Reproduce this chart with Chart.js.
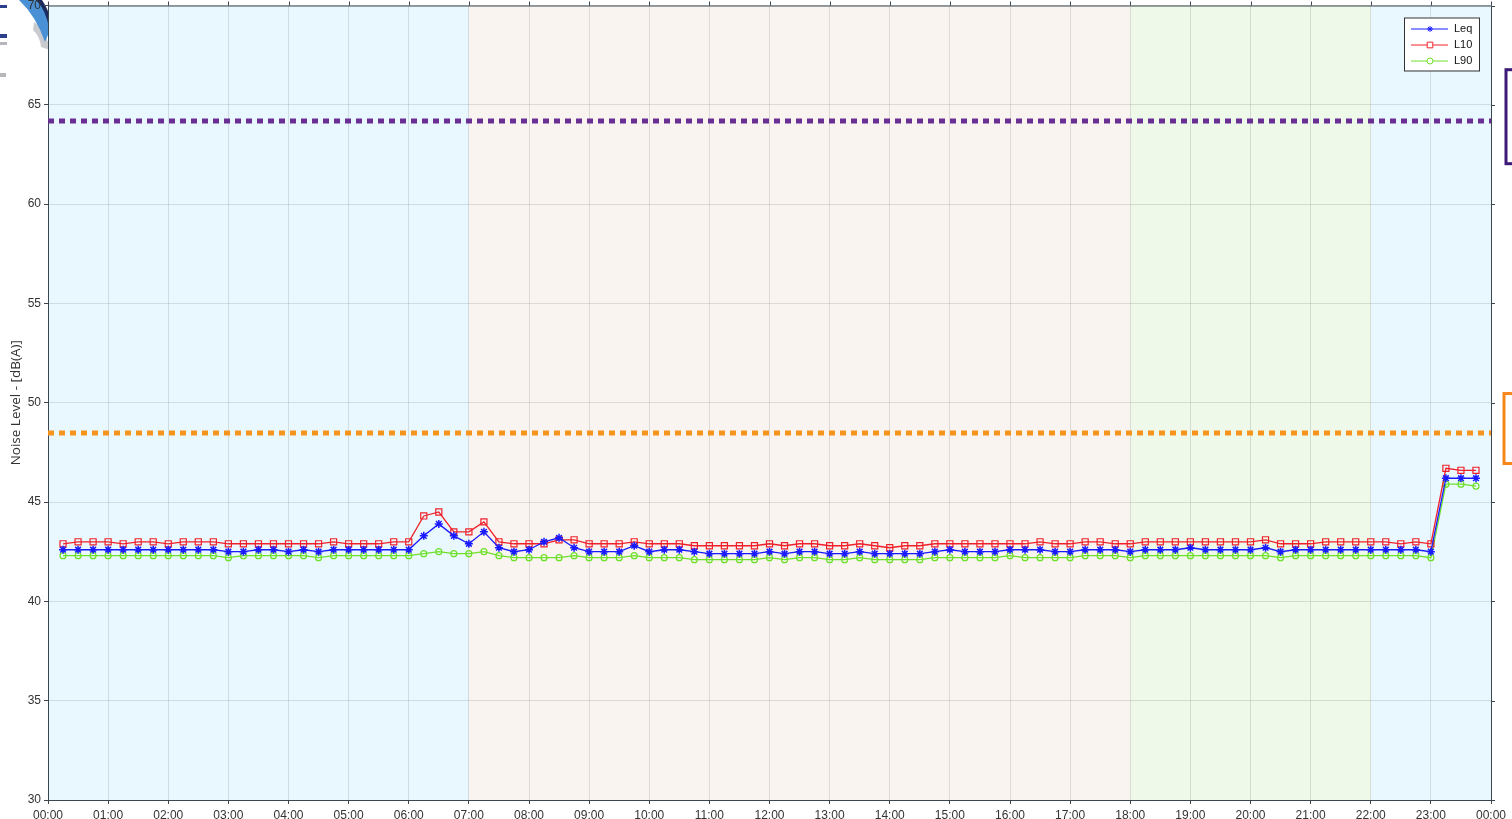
<!DOCTYPE html>
<html>
<head>
<meta charset="utf-8">
<script src="https://cdn.jsdelivr.net/npm/chart.js@4.4.0/dist/chart.umd.min.js"></script>
<style>
html, body { margin: 0; padding: 0; overflow: hidden; background: #fff; }
</style>
</head>
<body>
<canvas id="myChart" width="1512" height="819"></canvas>
<script>
// 15 minute intervals
var times = [
    '00:15','00:30','00:45','01:00','01:15','01:30','01:45','02:00','02:15','02:30','02:45','03:00',
    '03:15','03:30','03:45','04:00','04:15','04:30','04:45','05:00','05:15','05:30','05:45','06:00',
    '06:15','06:30','06:45','07:00','07:15','07:30','07:45','08:00','08:15','08:30','08:45','09:00',
    '09:15','09:30','09:45','10:00','10:15','10:30','10:45','11:00','11:15','11:30','11:45','12:00',
    '12:15','12:30','12:45','13:00','13:15','13:30','13:45','14:00','14:15','14:30','14:45','15:00',
    '15:15','15:30','15:45','16:00','16:15','16:30','16:45','17:00','17:15','17:30','17:45','18:00',
    '18:15','18:30','18:45','19:00','19:15','19:30','19:45','20:00','20:15','20:30','20:45','21:00',
    '21:15','21:30','21:45','22:00','22:15','22:30','22:45','23:00','23:15','23:30','23:45'
];

var leq = [
    42.6,42.6,42.6,42.6,42.6,42.6,42.6,42.6,42.6,42.6,42.6,42.5,
    42.5,42.6,42.6,42.5,42.6,42.5,42.6,42.6,42.6,42.6,42.6,42.6,
    43.3,43.9,43.3,42.9,43.5,42.7,42.5,42.6,43.0,43.2,42.7,42.5,
    42.5,42.5,42.8,42.5,42.6,42.6,42.5,42.4,42.4,42.4,42.4,42.5,
    42.4,42.5,42.5,42.4,42.4,42.5,42.4,42.4,42.4,42.4,42.5,42.6,
    42.5,42.5,42.5,42.6,42.6,42.6,42.5,42.5,42.6,42.6,42.6,42.5,
    42.6,42.6,42.6,42.7,42.6,42.6,42.6,42.6,42.7,42.5,42.6,42.6,
    42.6,42.6,42.6,42.6,42.6,42.6,42.6,42.5,46.2,46.2,46.2
];

var l10 = [
    42.9,43.0,43.0,43.0,42.9,43.0,43.0,42.9,43.0,43.0,43.0,42.9,
    42.9,42.9,42.9,42.9,42.9,42.9,43.0,42.9,42.9,42.9,43.0,43.0,
    44.3,44.5,43.5,43.5,44.0,43.0,42.9,42.9,42.9,43.1,43.1,42.9,
    42.9,42.9,43.0,42.9,42.9,42.9,42.8,42.8,42.8,42.8,42.8,42.9,
    42.8,42.9,42.9,42.8,42.8,42.9,42.8,42.7,42.8,42.8,42.9,42.9,
    42.9,42.9,42.9,42.9,42.9,43.0,42.9,42.9,43.0,43.0,42.9,42.9,
    43.0,43.0,43.0,43.0,43.0,43.0,43.0,43.0,43.1,42.9,42.9,42.9,
    43.0,43.0,43.0,43.0,43.0,42.9,43.0,42.9,46.7,46.6,46.6
];

var l90 = [
    42.3,42.3,42.3,42.3,42.3,42.3,42.3,42.3,42.3,42.3,42.3,42.2,
    42.3,42.3,42.3,42.3,42.3,42.2,42.3,42.3,42.3,42.3,42.3,42.3,
    42.4,42.5,42.4,42.4,42.5,42.3,42.2,42.2,42.2,42.2,42.3,42.2,
    42.2,42.2,42.3,42.2,42.2,42.2,42.1,42.1,42.1,42.1,42.1,42.2,
    42.1,42.2,42.2,42.1,42.1,42.2,42.1,42.1,42.1,42.1,42.2,42.2,
    42.2,42.2,42.2,42.3,42.2,42.2,42.2,42.2,42.3,42.3,42.3,42.2,
    42.3,42.3,42.3,42.3,42.3,42.3,42.3,42.3,42.3,42.2,42.3,42.3,
    42.3,42.3,42.3,42.3,42.3,42.3,42.3,42.2,45.9,45.9,45.8
];

// day periods (hours)
var bandStart = [0, 7, 18, 22];
var bandEnd = [7, 18, 22, 24];
var bandColors = ['#e9f8fe', '#f9f4f0', '#eef9e9', '#e9f8fe'];

// limit lines
var limitValues = [64.2, 48.5];
var limitColors = ['#6a2f94', '#f7941d'];
var limitBoxColors = ['#3d1a78', '#f7861a'];

var font_family = "'Liberation Sans', Arial, sans-serif";
var axis_color = '#3c4650';

function toMinutes(t) {
    var p = t.split(':');
    return parseInt(p[0]) * 60 + parseInt(p[1]);
}

function pairs(values) {
    var out = [];
    for (var i = 0; i < values.length; i++) {
        out.push({x: toMinutes(times[i]), y: values[i]});
    }
    return out;
}

function pad(n) {
    return (n < 10 ? '0' : '') + n;
}

function drawLogo(ctx) {
    // partly hidden logo in the top left corner
    ctx.fillStyle = '#c9cbce';
    ctx.beginPath();
    ctx.moveTo(34, 22);
    ctx.quadraticCurveTo(46, 30, 50, 50);
    ctx.lineTo(41, 47);
    ctx.quadraticCurveTo(40, 36, 33, 30);
    ctx.fill();
    ctx.fillStyle = '#4a90d4';
    ctx.beginPath();
    ctx.moveTo(19, 0);
    ctx.lineTo(38, 0);
    ctx.quadraticCurveTo(48, 12, 50, 30);
    ctx.lineTo(45, 42);
    ctx.quadraticCurveTo(36, 16, 19, 0);
    ctx.fill();
    ctx.fillStyle = '#1c2a5e';
    ctx.beginPath();
    ctx.moveTo(36, 0);
    ctx.lineTo(42, 0);
    ctx.quadraticCurveTo(49, 10, 50, 20);
    ctx.lineTo(49, 28);
    ctx.quadraticCurveTo(46, 10, 36, 0);
    ctx.fill();
    ctx.fillStyle = '#2b3f8c';
    ctx.fillRect(0, 5, 7, 3);
    ctx.fillRect(0, 34, 7, 4);
    ctx.fillStyle = '#b5b7ba';
    ctx.fillRect(0, 42, 7, 3);
    ctx.fillRect(0, 73, 6, 4);
}

var backgroundPlugin = {
    id: 'bands',
    beforeDraw: function (chart) {
        var ctx = chart.ctx;
        var a = chart.chartArea;
        var xs = chart.scales.x;
        ctx.save();
        drawLogo(ctx);
        for (var i = 0; i < bandStart.length; i++) {
            var x0 = xs.getPixelForValue(bandStart[i] * 60);
            var x1 = xs.getPixelForValue(bandEnd[i] * 60);
            ctx.fillStyle = bandColors[i];
            ctx.fillRect(x0, a.top, x1 - x0, a.bottom - a.top);
        }
        ctx.restore();
    },
    beforeDatasetsDraw: function (chart) {
        var ctx = chart.ctx;
        var a = chart.chartArea;
        var ys = chart.scales.y;
        ctx.save();
        for (var i = 0; i < limitValues.length; i++) {
            var y = Math.round(ys.getPixelForValue(limitValues[i]));
            ctx.strokeStyle = limitColors[i];
            ctx.lineWidth = 5;
            ctx.setLineDash([6, 5]);
            ctx.beginPath();
            ctx.moveTo(a.left, y);
            ctx.lineTo(a.right, y);
            ctx.stroke();
        }
        ctx.restore();
    },
    afterDraw: function (chart) {
        var ctx = chart.ctx;
        var a = chart.chartArea;
        var xs = chart.scales.x;
        var ys = chart.scales.y;
        ctx.save();
        // top and right frame with outward ticks
        ctx.strokeStyle = axis_color;
        ctx.lineWidth = 1;
        ctx.beginPath();
        ctx.moveTo(a.left, a.top + 0.5);
        ctx.lineTo(a.right, a.top + 0.5);
        ctx.moveTo(a.right + 0.5, a.top);
        ctx.lineTo(a.right + 0.5, a.bottom);
        xs.ticks.forEach(function (t) {
            var px = Math.round(xs.getPixelForValue(t.value)) + 0.5;
            ctx.moveTo(px, a.top);
            ctx.lineTo(px, a.top - 4);
        });
        ys.ticks.forEach(function (t) {
            var py = Math.round(ys.getPixelForValue(t.value)) + 0.5;
            ctx.moveTo(a.right, py);
            ctx.lineTo(a.right + 4, py);
        });
        ctx.stroke();

        // clipped limit label boxes on the right
        for (var i = 0; i < limitValues.length; i++) {
            var y = ys.getPixelForValue(limitValues[i]);
            var h = i === 0 ? 94 : 70;
            ctx.strokeStyle = limitBoxColors[i];
            ctx.lineWidth = 3;
            ctx.strokeRect(a.right + 15 - i * 2, y - h / 2 - 4, 60, h);
        }

        // legend
        var lx = a.right - 87, ly = a.top + 12, lw = 75, lh = 53;
        ctx.fillStyle = '#ffffff';
        ctx.fillRect(lx, ly, lw, lh);
        ctx.strokeStyle = '#333333';
        ctx.lineWidth = 1;
        ctx.strokeRect(lx + 0.5, ly + 0.5, lw, lh);
        ctx.font = '11px ' + font_family;
        ctx.textBaseline = 'middle';
        chart.data.datasets.forEach(function (ds, k) {
            var yy = ly + 11 + k * 16;
            ctx.strokeStyle = ds.borderColor;
            ctx.lineWidth = 1;
            ctx.beginPath();
            ctx.moveTo(lx + 7, yy + 0.5);
            ctx.lineTo(lx + 44, yy + 0.5);
            ctx.stroke();
            ctx.fillStyle = '#ffffff';
            ctx.strokeStyle = ds.borderColor;
            Chart.helpers.drawPoint(ctx, {
                pointStyle: ds.pointStyle,
                radius: ds.pointStyle === 'rect' ? 4 : 3,
                borderWidth: 1.2,
                rotation: 0
            }, lx + 26, yy + 0.5);
            ctx.fillStyle = '#111111';
            ctx.fillText(ds.label, lx + 50, yy + 0.5);
        });
        ctx.restore();
    }
};

function make_datasets() {
    var names = ['Leq', 'L10', 'L90'];
    var series = [leq, l10, l90];
    var colors = ['#1a1aff', '#f0202a', '#6ee02a'];
    var styles = ['star', 'rect', 'circle'];
    var radius = [4, 4.3, 3];
    var dts = [];
    for (var i = 0; i < names.length; i++) {
        dts.push({
            label: names[i],
            data: pairs(series[i]),
            borderColor: colors[i],
            backgroundColor: colors[i],
            pointStyle: styles[i],
            pointRadius: radius[i],
            pointBorderWidth: styles[i] === 'star' ? 1.5 : 1.2,
            pointBackgroundColor: 'rgba(0,0,0,0)',
            borderWidth: 1.3,
            tension: 0
        });
    }
    return dts;
}

var ctx = document.getElementById('myChart').getContext('2d');
var chart = new Chart(ctx, {
    type: 'line',
    data: { datasets: make_datasets() },
    options: {
        responsive: false,
        animation: false,
        layout: { padding: { left: 0, top: 5, right: 21, bottom: 0 } },
        scales: {
            x: {
                type: 'linear',
                min: 0,
                max: 1440,
                afterFit: function (s) { s.height = 19; s.paddingLeft = 0; s.paddingRight = 0; },
                ticks: {
                    stepSize: 60,
                    maxTicksLimit: 30,
                    autoSkip: false,
                    maxRotation: 0,
                    padding: 4,
                    color: '#333333',
                    font: { family: font_family, size: 12 },
                    callback: function (v) { return pad(Math.floor(v / 60) % 24) + ':00'; }
                },
                grid: { color: 'rgba(0,0,0,0.11)', tickColor: axis_color, tickLength: 4 },
                border: { color: axis_color, width: 1 }
            },
            y: {
                min: 30,
                max: 70,
                afterFit: function (s) { s.width = 48; s.paddingTop = 0; s.paddingBottom = 0; },
                ticks: {
                    stepSize: 5,
                    padding: 3,
                    color: '#333333',
                    font: { family: font_family, size: 12 }
                },
                grid: { color: 'rgba(0,0,0,0.11)', tickColor: axis_color, tickLength: 4 },
                border: { color: axis_color, width: 1 },
                title: {
                    display: true,
                    text: 'Noise Level - [dB(A)]',
                    color: '#333333',
                    font: { family: "'Open Sans', sans-serif", size: 13.5 },
                    padding: { top: 8, bottom: 0 }
                }
            }
        },
        plugins: {
            legend: { display: false },
            tooltip: { enabled: false }
        }
    },
    plugins: [backgroundPlugin]
});
</script>
</body>
</html>
